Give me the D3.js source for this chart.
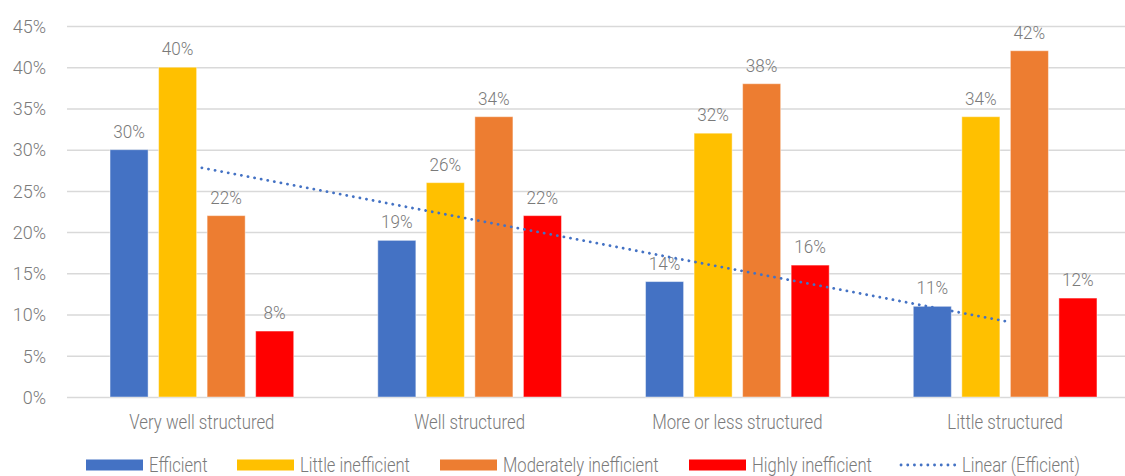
<!DOCTYPE html>
<html>
<head>
<meta charset="utf-8">
<script src="https://cdn.jsdelivr.net/npm/d3@7"></script>
<style>
    body { margin: 0; background: #fff; }
    text { font-family: Roboto, "Liberation Sans Narrow", sans-serif; font-weight: 300; fill: #7a7a7a; }
</style>
</head>
<body>
<svg id="chart" width="1125" height="476"></svg>
<script>
// chart data
var categories = ["Very well structured", "Well structured", "More or less structured", "Little structured"];
var seriesNames = ["Efficient", "Little inefficient", "Moderately inefficient", "Highly inefficient"];
var efficient = [0.30, 0.19, 0.14, 0.11];
var littleInefficient = [0.40, 0.26, 0.32, 0.34];
var moderatelyInefficient = [0.22, 0.34, 0.38, 0.42];
var highlyInefficient = [0.08, 0.22, 0.16, 0.12];
var yTicks = [0, 0.05, 0.10, 0.15, 0.20, 0.25, 0.30, 0.35, 0.40, 0.45];
var trendName = "Linear (Efficient)";

var seriesValues = [efficient, littleInefficient, moderatelyInefficient, highlyInefficient];
var colors = ["#4472C4", "#FFC000", "#ED7D31", "#FF0000"];
// legend swatch left edges
var legendX = [86, 237, 440, 689, 899];

var svg = d3.select("#chart");
var pct = d3.format(".0%");

// squeeze text horizontally around its anchor point
function squeeze(sel, k) {
    sel.each(function() {
        var t = d3.select(this);
        var ax = +t.attr("x") || 0;
        t.attr("transform", "translate(" + ax + ",0) scale(" + k + ",1) translate(" + (-ax) + ",0)");
    });
}

var x0 = d3.scaleBand()
    .domain(categories)
    .range([68, 1139])
    .paddingInner(0)
    .paddingOuter(0);

var groupMargin = x0.bandwidth() * 0.157;
var x1 = d3.scaleBand()
    .domain(seriesNames)
    .range([groupMargin, x0.bandwidth() - groupMargin])
    .paddingInner(0.216)
    .paddingOuter(0);

var y = d3.scaleLinear()
    .domain([0, 0.45])
    .range([397, 26]);

// gridlines + y labels
var yAxis = d3.axisLeft(y)
    .tickValues(yTicks)
    .tickFormat(pct)
    .tickSize(-(1125 - 67))
    .tickPadding(21);

var gy = svg.append("g")
    .attr("transform", "translate(67,0)")
    .call(yAxis);
gy.select(".domain").remove();
gy.selectAll(".tick line")
    .attr("stroke", "#d9d9d9")
    .attr("stroke-width", 1.5);
gy.selectAll(".tick text")
    .style("font-size", "18px")
    .attr("dy", "0.35em");

// bars
var groups = svg.append("g").selectAll("g")
    .data(categories)
    .enter().append("g")
    .attr("transform", function(d) { return "translate(" + x0(d) + ",0)"; });

seriesNames.forEach(function(name, s) {
    groups.append("rect")
        .attr("x", function(d, i) { return x1(name); })
        .attr("y", function(d, i) { return y(seriesValues[s][i]); })
        .attr("width", x1.bandwidth())
        .attr("height", function(d, i) { return y(0) - y(seriesValues[s][i]); })
        .attr("fill", colors[s])
        .attr("stroke", "#fff")
        .attr("stroke-opacity", 0.45)
        .attr("stroke-width", 1);

    groups.append("text")
        .attr("x", function(d, i) { return x1(name) + x1.bandwidth() / 2; })
        .attr("y", function(d, i) { return y(seriesValues[s][i]) - 12; })
        .attr("text-anchor", "middle")
        .style("font-size", "19px")
        .text(function(d, i) { return pct(seriesValues[s][i]); })
        .call(squeeze, 0.9);
});

// category axis
var xAxis = d3.axisBottom(x0).tickSize(0).tickPadding(17);
var gx = svg.append("g")
    .attr("transform", "translate(0,397)")
    .call(xAxis);
gx.select(".domain").remove();
gx.selectAll(".tick text")
    .style("font-size", "21px")
    .call(squeeze, 0.8);

// linear trendline for Efficient (least squares over category index)
var n = efficient.length;
var meanX = d3.mean(efficient, function(d, i) { return i + 1; });
var meanY = d3.mean(efficient);
var num = d3.sum(efficient, function(d, i) { return (i + 1 - meanX) * (d - meanY); });
var den = d3.sum(efficient, function(d, i) { return (i + 1 - meanX) * (i + 1 - meanX); });
var slope = num / den;
var intercept = meanY - slope * meanX;

var trendPoints = [1, n].map(function(k) {
    return [x0(categories[k - 1]) + x0.bandwidth() / 2, y(intercept + slope * k)];
});

svg.append("path")
    .attr("d", d3.line()(trendPoints))
    .attr("fill", "none")
    .attr("stroke", "#4472C4")
    .attr("stroke-width", 2.8)
    .attr("stroke-linecap", "round")
    .attr("stroke-dasharray", "0.1 6.6");

// legend
var legend = svg.append("g").attr("transform", "translate(0,464.5)");
var legendItems = seriesNames.concat([trendName]);
legendItems.forEach(function(name, i) {
    var lx = legendX[i];
    if (i < seriesNames.length) {
        legend.append("rect")
            .attr("x", lx)
            .attr("y", -5)
            .attr("width", 57)
            .attr("height", 11)
            .attr("fill", colors[i]);
    } else {
        legend.append("line")
            .attr("x1", lx + 2).attr("x2", lx + 58)
            .attr("y1", 0.5).attr("y2", 0.5)
            .attr("stroke", "#4472C4")
            .attr("stroke-width", 2.8)
            .attr("stroke-linecap", "round")
            .attr("stroke-dasharray", "0.1 6.6");
    }
    legend.append("text")
        .attr("x", lx + 63)
        .attr("y", 0)
        .attr("dy", "0.35em")
        .style("font-size", "20px")
        .text(name)
        .call(squeeze, 0.83);
});
</script>
</body>
</html>
